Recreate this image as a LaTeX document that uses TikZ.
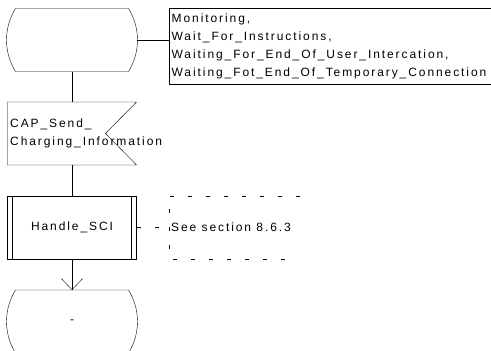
\documentclass[tikz,border=0pt]{standalone}
\usepackage{fontspec}
\setmainfont{Liberation Sans}[LetterSpace=16]
\usetikzlibrary{arrows.meta}

\begin{document}
\begin{tikzpicture}[x=1pt, y=-1pt, line join=round, font=\fontsize{12}{18}\selectfont,
	>={Straight Barb[length=11pt,width=21pt]},
	blk/.style={minimum width=129pt, minimum height=63pt, inner sep=0pt, outer sep=0pt},
	cmt/.style={dash pattern=on 4pt off 14pt}]
	\useasboundingbox (0,0) rectangle (491,351);
	\clip (0,0) rectangle (491,351);
	\path
	(72,40) node[blk] (stTop) {}
	(72,133.5) node[blk] (sendCI) {}
	(72,227.5) node[blk] (procSCI) {Handle\_SCI}
	(72,321.5) node[blk] (stNext) {-}
	(168.5,8) node[anchor=north west, draw, inner sep=3pt, align=left, text width=316pt,
		minimum height=76pt] (stList) {Monitoring,\\Wait\_For\_Instructions,\\
		Waiting\_For\_End\_Of\_User\_Intercation,\\Waiting\_Fot\_End\_Of\_Temporary\_Connection}
	(10,133.5) node[anchor=west, align=left, inner sep=0pt] (sendTxt) {CAP\_Send\_\\Charging\_Information}
	(169,227.5) node[anchor=west, inner sep=2pt] (cmtTxt) {See section 8.6.3};
	% states
	\draw ([xshift=8]stTop.north west) -- ([xshift=-8]stTop.north east)
	.. controls +(12,19.6) and +(12,-19.6) .. ([xshift=-8]stTop.south east)
	-- ([xshift=8]stTop.south west)
	.. controls +(-12,-19.6) and +(-12,19.6) .. ([xshift=8]stTop.north west);
	\draw ([xshift=8]stNext.north west) -- ([xshift=-8]stNext.north east)
	.. controls +(12,19.6) and +(12,-19.6) .. ([xshift=-8]stNext.south east)
	-- ([xshift=8]stNext.south west)
	.. controls +(-12,-19.6) and +(-12,19.6) .. ([xshift=8]stNext.north west);
	% output signal
	\draw (sendCI.north west) -- (sendCI.north east) -- ([xshift=-31]sendCI.east)
	-- (sendCI.south east) -- (sendCI.south west) -- cycle;
	% procedure call
	\draw (procSCI.north west) rectangle (procSCI.south east)
	([xshift=5]procSCI.north west) -- ([xshift=5]procSCI.south west)
	([xshift=-5]procSCI.north east) -- ([xshift=-5]procSCI.south east);
	% connectors
	\draw (stTop.east) -- (stList.west |- stTop.east);
	\draw (stTop.south) -- (sendCI.north);
	\draw (sendCI.south) -- (procSCI.north);
	\draw[->] (procSCI.south) -- (stNext.north);
	% comment
	\draw[cmt] (procSCI.east) -- (cmtTxt.west);
	\draw[cmt] (300,196) -- (169,196) -- (169,259) -- (292,259);
\end{tikzpicture}
\end{document}
